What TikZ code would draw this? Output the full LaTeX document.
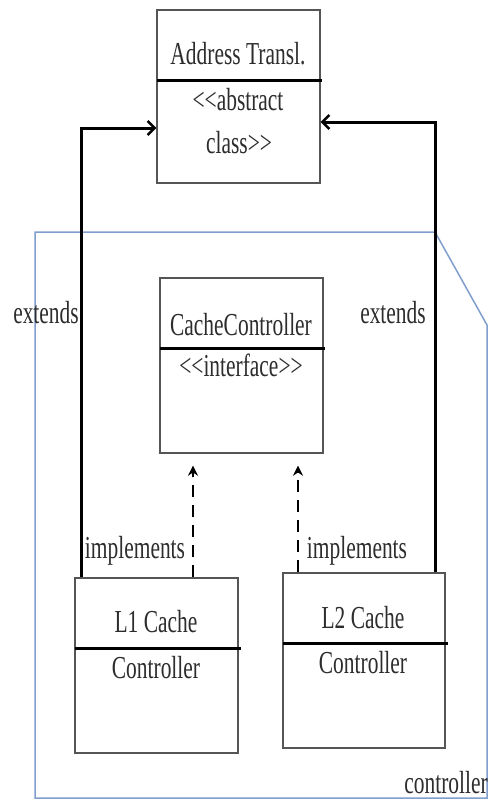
\documentclass[tikz,border=0pt]{standalone}
\usepackage{fontspec}
\setmainfont{Liberation Serif}[FakeStretch=0.67]
\usetikzlibrary{arrows.meta}
\definecolor{pkgblue}{RGB}{128,158,206}
\definecolor{inkgray}{RGB}{45,45,45}
\definecolor{framegray}{RGB}{85,85,85}
\tikzset{
  classbox/.style={draw=framegray, line width=1.4pt, minimum width=163pt, inner sep=0pt},
  divider/.style={line width=3pt, black},
  label/.style={anchor=base, inner sep=0pt, text=inkgray, font=\fontsize{32pt}{38pt}\selectfont},
  extendsarrow/.style={line width=3pt, -{Straight Barb[length=7pt, width=14pt, line width=2.5pt]}},
  implarrow/.style={line width=2.5pt, dash pattern=on 12pt off 8pt, -{Stealth[length=10pt, width=10pt]}},
  pkgline/.style={draw=pkgblue, line width=1.5pt}
}
\begin{document}
\begin{tikzpicture}[x=1pt, y=-1pt]
\useasboundingbox (0,0) rectangle (490,803);
\fill[white] (0,0) rectangle (490,803);

% package outline with folded corner
\draw[pkgline] (35,232) -- (435,232) -- (487,325) -- (487,798) -- (35,798) -- cycle;
\node[label] (pkg) at (446,793) {controller};

% class boxes
\node[classbox, minimum height=173pt] (at) at (238.5,96.5) {};
\node[classbox, minimum height=175pt] (cc) at (241.5,365.5) {};
\node[classbox, minimum height=175pt] (l1) at (156.5,665.5) {};
\node[classbox, minimum height=175pt, minimum width=162pt] (l2) at (364,660.5) {};

% compartment dividers
\draw[divider] (157,80) -- (322,80);
\draw[divider] (160,348) -- (325,348);
\draw[divider] (75,648) -- (241,648);
\draw[divider] (283,643) -- (448,643);

% class texts
\node[label] (atname) at (238,64) {Address Transl.};
\node[label] (atst1) at (238,110) {<{}<abstract};
\node[label] (atst2) at (239,153) {class>{}>};
\node[label] (ccname) at (241,335) {CacheController};
\node[label] (ccst) at (241,376) {<{}<interface>{}>};
\node[label] (l1a) at (156,632) {L1 Cache};
\node[label] (l1b) at (156,678) {Controller};
\node[label] (l2a) at (363,628) {L2 Cache};
\node[label] (l2b) at (363,673) {Controller};

% generalisation connectors
\draw[extendsarrow] ([xshift=7pt]l1.north west) |- ([yshift=-31.5pt]at.west);
\draw[extendsarrow] ([xshift=-10pt]l2.north east) |- ([yshift=-25.5pt]at.east);
\node[label] (ext1) at (46,323) {extends};
\node[label] (ext2) at (393,323) {extends};

% realisation connectors
\draw[implarrow, shorten >=12pt] (l1.north -| 193,0) -- (cc.south -| 193,0);
\draw[implarrow, shorten >=12pt] (l2.north -| 298,0) -- (cc.south -| 298,0);
\node[label] (imp1) at (135,558) {implements};
\node[label] (imp2) at (357,558) {implements};
\end{tikzpicture}
\end{document}
